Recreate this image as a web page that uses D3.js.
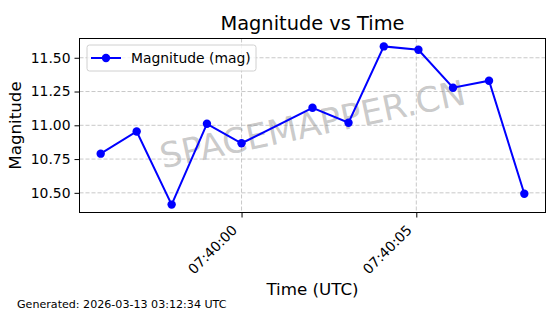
<!DOCTYPE html>
<html>
<head>
<meta charset="utf-8">
<script src="https://cdn.jsdelivr.net/npm/d3@7"></script>
<style>
  body { margin: 0; background: #fff; }
  svg text { font-family: "DejaVu Sans", sans-serif; }
</style>
</head>
<body>
<div id="chart"></div>
<script>
'use strict';

// data
var times = ["2026-03-12T07:39:55.97Z", "2026-03-12T07:39:57.00Z", "2026-03-12T07:39:58.00Z",
             "2026-03-12T07:39:59.01Z", "2026-03-12T07:40:00.00Z", "2026-03-12T07:40:02.03Z",
             "2026-03-12T07:40:03.06Z", "2026-03-12T07:40:04.07Z", "2026-03-12T07:40:05.06Z",
             "2026-03-12T07:40:06.05Z", "2026-03-12T07:40:07.08Z", "2026-03-12T07:40:08.09Z"];
var mags = [10.79, 10.954, 10.413, 11.011, 10.867, 11.13, 11.019, 11.584, 11.559, 11.278, 11.33, 10.493];
var yTicks = [10.50, 10.75, 11.00, 11.25, 11.50];
var seriesName = "Magnitude (mag)";
var footer = "Generated: 2026-03-13 03:12:34 UTC";

var W = 560, H = 314;
var margin = {left: 79.5, right: 14.5, top: 38.5, bottom: 101.5};
var iw = W - margin.left - margin.right, ih = H - margin.top - margin.bottom;

var data = times.map(function(t, i) { return {t: new Date(t), m: mags[i]}; });

// matplotlib-style 5% margins
var tExt = d3.extent(data, function(d) { return +d.t; });
var tPad = (tExt[1] - tExt[0]) * 0.05;
var mExt = d3.extent(mags);
var mPad = (mExt[1] - mExt[0]) * 0.05;

var x = d3.scaleUtc().domain([tExt[0] - tPad, tExt[1] + tPad]).range([0, iw]);
var y = d3.scaleLinear().domain([mExt[0] - mPad, mExt[1] + mPad]).range([ih, 0]);

var svg = d3.select("#chart").append("svg")
    .attr("width", W).attr("height", H);

var g = svg.append("g").attr("transform", "translate(" + margin.left + "," + margin.top + ")");

var xTicks = x.ticks(d3.utcSecond.every(5));

// grid
g.append("g").selectAll("line").data(yTicks).enter().append("line")
    .attr("x1", 0).attr("x2", iw)
    .attr("y1", function(d) { return y(d); }).attr("y2", function(d) { return y(d); })
    .attr("stroke", "#b0b0b0").attr("stroke-opacity", 0.7)
    .attr("stroke-width", 1).attr("stroke-dasharray", "4,2");
g.append("g").selectAll("line").data(xTicks).enter().append("line")
    .attr("y1", 0).attr("y2", ih)
    .attr("x1", function(d) { return x(d); }).attr("x2", function(d) { return x(d); })
    .attr("stroke", "#b0b0b0").attr("stroke-opacity", 0.7)
    .attr("stroke-width", 1).attr("stroke-dasharray", "4,2");

// watermark
g.append("text")
    .attr("transform", "translate(" + (iw / 2) + "," + (ih / 2 - 1) + ") rotate(-12)")
    .attr("text-anchor", "middle").attr("dominant-baseline", "central")
    .attr("font-size", 34.7).attr("fill", "#808080").attr("fill-opacity", 0.42)
    .text("SPACEMAPPER.CN");

// series
var line = d3.line().x(function(d) { return x(d.t); }).y(function(d) { return y(d.m); });
g.append("path").datum(data)
    .attr("d", line).attr("fill", "none")
    .attr("stroke", "#0000ff").attr("stroke-width", 2);
g.append("g").selectAll("circle").data(data).enter().append("circle")
    .attr("cx", function(d) { return x(d.t); })
    .attr("cy", function(d) { return y(d.m); })
    .attr("r", 4.2).attr("fill", "#0000ff");

// axes
var xAxis = g.append("g").attr("transform", "translate(0," + ih + ")")
    .call(d3.axisBottom(x).tickValues(xTicks).tickFormat(d3.utcFormat("%H:%M:%S")).tickSize(5).tickSizeOuter(0));
xAxis.attr("font-family", null);
xAxis.select(".domain").remove();
xAxis.selectAll("text")
    .attr("font-size", 13.9).attr("fill", "#000")
    .attr("text-anchor", "end")
    .attr("dy", null).attr("y", 0)
    .attr("transform", "translate(-4,18.5) rotate(-45)");

var yAxis = g.append("g")
    .call(d3.axisLeft(y).tickValues(yTicks).tickFormat(d3.format(".2f")).tickSize(5).tickPadding(4));
yAxis.attr("font-family", null);
yAxis.select(".domain").remove();
yAxis.selectAll("text").attr("font-size", 13.9).attr("fill", "#000");

g.append("rect").attr("width", iw).attr("height", ih)
    .attr("fill", "none").attr("stroke", "#000").attr("stroke-width", 1);

// legend
var lg = g.append("g").attr("transform", "translate(7.5,6.5)");
lg.append("rect").attr("width", 169).attr("height", 26).attr("rx", 2.5)
    .attr("fill", "#fff").attr("fill-opacity", 0.8)
    .attr("stroke", "#d0d0d0").attr("stroke-width", 1);
lg.append("line").attr("x1", 4).attr("x2", 34).attr("y1", 13).attr("y2", 13)
    .attr("stroke", "#0000ff").attr("stroke-width", 2);
lg.append("circle").attr("cx", 19).attr("cy", 13).attr("r", 4.2).attr("fill", "#0000ff");
lg.append("text").attr("x", 44).attr("y", 13).attr("dominant-baseline", "central")
    .attr("font-size", 13.9).text(seriesName);

// titles
svg.append("text").attr("x", margin.left + iw / 2).attr("y", 30)
    .attr("text-anchor", "middle").attr("font-size", 19.4).text("Magnitude vs Time");
svg.append("text").attr("x", margin.left + iw / 2).attr("y", 295)
    .attr("text-anchor", "middle").attr("font-size", 16.7).text("Time (UTC)");
svg.append("text")
    .attr("transform", "translate(21," + (margin.top + ih / 2) + ") rotate(-90)")
    .attr("text-anchor", "middle").attr("font-size", 16.7).text("Magnitude");
svg.append("text").attr("x", 17).attr("y", 308)
    .attr("font-size", 11.1).text(footer);
</script>
</body>
</html>
